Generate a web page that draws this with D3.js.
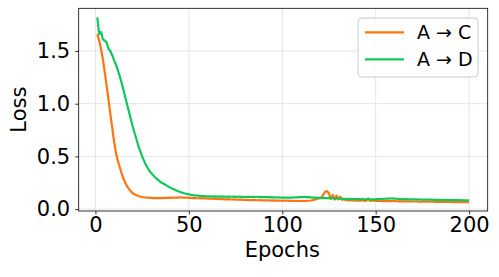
<!DOCTYPE html>
<html>
<head>
<meta charset="utf-8">
<script src="https://cdn.jsdelivr.net/npm/d3@7"></script>
<style>
  body { margin: 0; background: #fff; }
  text { font-family: "DejaVu Sans", sans-serif; fill: #000; }
</style>
</head>
<body>
<div id="vis"></div>
<script>
// epochs 1..200
let epochs = d3.range(1, 201);

let lossAC = [
  1.66, 1.60, 1.52, 1.42, 1.30, 1.17, 1.04, 0.90, 0.77, 0.64,
  0.53, 0.46, 0.40, 0.34, 0.29, 0.25, 0.215, 0.19, 0.168, 0.152,
  0.140, 0.131, 0.124, 0.119, 0.115, 0.112, 0.110, 0.108, 0.107, 0.106,
  0.105, 0.106, 0.104, 0.105, 0.106, 0.105, 0.107, 0.106, 0.108, 0.107,
  0.109, 0.108, 0.110, 0.109, 0.111, 0.110, 0.109, 0.110, 0.108, 0.107,
  0.106, 0.105, 0.106, 0.104, 0.103, 0.104, 0.102, 0.101, 0.102, 0.100,
  0.099, 0.100, 0.098, 0.097, 0.098, 0.096, 0.095, 0.096, 0.094, 0.093,
  0.094, 0.092, 0.091, 0.092, 0.090, 0.091, 0.089, 0.090, 0.088, 0.089,
  0.087, 0.088, 0.086, 0.087, 0.085, 0.086, 0.084, 0.085, 0.083, 0.084,
  0.082, 0.083, 0.082, 0.081, 0.082, 0.080, 0.081, 0.080, 0.081, 0.079,
  0.080, 0.079, 0.080, 0.078, 0.079, 0.078, 0.079, 0.077, 0.078, 0.077,
  0.078, 0.077, 0.078, 0.079, 0.081, 0.084, 0.088, 0.093, 0.098, 0.104,
  0.112, 0.138, 0.165, 0.170, 0.150, 0.095, 0.135, 0.090, 0.128, 0.092,
  0.118, 0.088, 0.094, 0.086, 0.085, 0.083, 0.084, 0.082, 0.081, 0.082,
  0.080, 0.079, 0.086, 0.076, 0.081, 0.092, 0.078, 0.080, 0.079, 0.078,
  0.077, 0.078, 0.077, 0.076, 0.077, 0.076, 0.075, 0.076, 0.078, 0.077,
  0.075, 0.074, 0.075, 0.074, 0.073, 0.074, 0.073, 0.074, 0.072, 0.073,
  0.072, 0.073, 0.071, 0.072, 0.071, 0.072, 0.070, 0.071, 0.070, 0.071,
  0.070, 0.069, 0.070, 0.069, 0.070, 0.069, 0.068, 0.069, 0.068, 0.069,
  0.068, 0.067, 0.068, 0.067, 0.068, 0.067, 0.066, 0.067, 0.066, 0.066
];

let lossAD = [
  1.82, 1.66, 1.68, 1.61, 1.60, 1.58, 1.52, 1.50, 1.46, 1.41,
  1.37, 1.32, 1.26, 1.20, 1.13, 1.06, 0.99, 0.92, 0.85, 0.78,
  0.72, 0.66, 0.60, 0.55, 0.50, 0.46, 0.42, 0.39, 0.36, 0.34,
  0.32, 0.30, 0.285, 0.27, 0.255, 0.245, 0.235, 0.225, 0.215, 0.205,
  0.196, 0.188, 0.180, 0.172, 0.165, 0.159, 0.153, 0.148, 0.144, 0.140,
  0.136, 0.133, 0.131, 0.129, 0.127, 0.125, 0.124, 0.123, 0.122, 0.121,
  0.120, 0.121, 0.119, 0.120, 0.118, 0.119, 0.120, 0.118, 0.119, 0.117,
  0.118, 0.119, 0.117, 0.118, 0.116, 0.117, 0.118, 0.116, 0.117, 0.115,
  0.116, 0.117, 0.115, 0.116, 0.114, 0.115, 0.116, 0.114, 0.115, 0.113,
  0.114, 0.113, 0.112, 0.113, 0.111, 0.112, 0.110, 0.111, 0.110, 0.109,
  0.110, 0.109, 0.110, 0.108, 0.109, 0.110, 0.111, 0.112, 0.113, 0.114,
  0.115, 0.116, 0.114, 0.113, 0.112, 0.110, 0.109, 0.108, 0.107, 0.106,
  0.105, 0.106, 0.104, 0.105, 0.106, 0.104, 0.103, 0.102, 0.101, 0.100,
  0.099, 0.098, 0.097, 0.098, 0.096, 0.097, 0.095, 0.096, 0.094, 0.095,
  0.094, 0.093, 0.098, 0.089, 0.094, 0.100, 0.091, 0.093, 0.092, 0.093,
  0.094, 0.095, 0.096, 0.097, 0.098, 0.099, 0.100, 0.101, 0.103, 0.100,
  0.098, 0.097, 0.096, 0.095, 0.094, 0.093, 0.094, 0.093, 0.092, 0.093,
  0.092, 0.091, 0.092, 0.091, 0.090, 0.091, 0.090, 0.089, 0.090, 0.089,
  0.088, 0.089, 0.088, 0.087, 0.088, 0.087, 0.086, 0.087, 0.086, 0.085,
  0.086, 0.085, 0.086, 0.085, 0.084, 0.085, 0.084, 0.083, 0.084, 0.083
];

let seriesNames = ['A \u2192 C', 'A \u2192 D'];
let seriesColors = ['#ff7410', '#0ec95a'];
let xTicks = [0, 50, 100, 150, 200];
let yTicks = [0.0, 0.5, 1.0, 1.5];

let width = 499, height = 277;
let margin = {top: 8.3, right: 11.3, bottom: 66, left: 78.7};
let plotW = width - margin.left - margin.right,
    plotH = height - margin.top - margin.bottom;

let svg = d3.select('#vis')
    .append('svg')
    .attr('width', width)
    .attr('height', height);

let g = svg.append('g')
    .attr('transform', 'translate(' + margin.left + ',' + margin.top + ')');

// matplotlib style 5% margins
let xScale = d3.scaleLinear()
    .domain([1 - 199 * 0.05, 200 + 199 * 0.05])
    .range([0, plotW]);

let yScale = d3.scaleLinear()
    .domain([-0.018, 1.905])
    .range([plotH, 0]);

// grid
g.append('g')
    .selectAll('line')
    .data(xTicks)
    .enter()
    .append('line')
    .attr('x1', d => xScale(d)).attr('x2', d => xScale(d))
    .attr('y1', 0).attr('y2', plotH)
    .attr('stroke', '#e6e6e6').attr('stroke-width', 1);

g.append('g')
    .selectAll('line')
    .data(yTicks)
    .enter()
    .append('line')
    .attr('y1', d => yScale(d)).attr('y2', d => yScale(d))
    .attr('x1', 0).attr('x2', plotW)
    .attr('stroke', '#e6e6e6').attr('stroke-width', 1);

// lines
let line = d3.line()
    .x((d, i) => xScale(epochs[i]))
    .y(d => yScale(d));

[lossAC, lossAD].forEach(function(s, k) {
    g.append('path')
        .datum(s)
        .attr('fill', 'none')
        .attr('stroke', seriesColors[k])
        .attr('stroke-width', 2.2)
        .attr('stroke-linejoin', 'round')
        .attr('d', line);
});

// axes
let xAxis = d3.axisBottom(xScale)
    .tickValues(xTicks)
    .tickSize(3.5)
    .tickPadding(3)
    .tickFormat(d3.format('d'));

let yAxis = d3.axisLeft(yScale)
    .tickValues(yTicks)
    .tickSize(3.5)
    .tickPadding(5)
    .tickFormat(d3.format('.1f'));

let gx = g.append('g')
    .attr('transform', 'translate(0,' + plotH + ')')
    .call(xAxis);
let gy = g.append('g').call(yAxis);

[gx, gy].forEach(function(a) {
    a.select('.domain').remove();
    a.selectAll('line').attr('stroke', '#000').attr('stroke-width', 0.8);
    a.selectAll('text')
        .style('font-family', '"DejaVu Sans", sans-serif')
        .style('font-size', '21px')
        .attr('fill', '#000');
});

// frame
g.append('rect')
    .attr('width', plotW)
    .attr('height', plotH)
    .attr('fill', 'none')
    .attr('stroke', '#000')
    .attr('stroke-width', 0.8);

// axis labels
svg.append('text')
    .attr('x', margin.left + xScale(100))
    .attr('y', 257)
    .attr('text-anchor', 'middle')
    .style('font-size', '21px')
    .text('Epochs');

svg.append('text')
    .attr('transform', 'translate(26,' + (margin.top + plotH / 2) + ') rotate(-90)')
    .attr('text-anchor', 'middle')
    .style('font-size', '21px')
    .text('Loss');

// legend
let legend = svg.append('g')
    .attr('transform', 'translate(358,18)');

legend.append('rect')
    .attr('width', 120)
    .attr('height', 59)
    .attr('rx', 4)
    .attr('fill', '#fff')
    .attr('fill-opacity', 0.8)
    .attr('stroke', '#cccccc')
    .attr('stroke-width', 1);

seriesNames.forEach(function(name, k) {
    let y = 14.3 + k * 27;
    legend.append('line')
        .attr('x1', 7).attr('x2', 46)
        .attr('y1', y).attr('y2', y)
        .attr('stroke', seriesColors[k])
        .attr('stroke-width', 2.2);
    legend.append('text')
        .attr('x', 59)
        .attr('y', y + 7)
        .style('font-size', '19px')
        .text(name);
});
</script>
</body>
</html>
